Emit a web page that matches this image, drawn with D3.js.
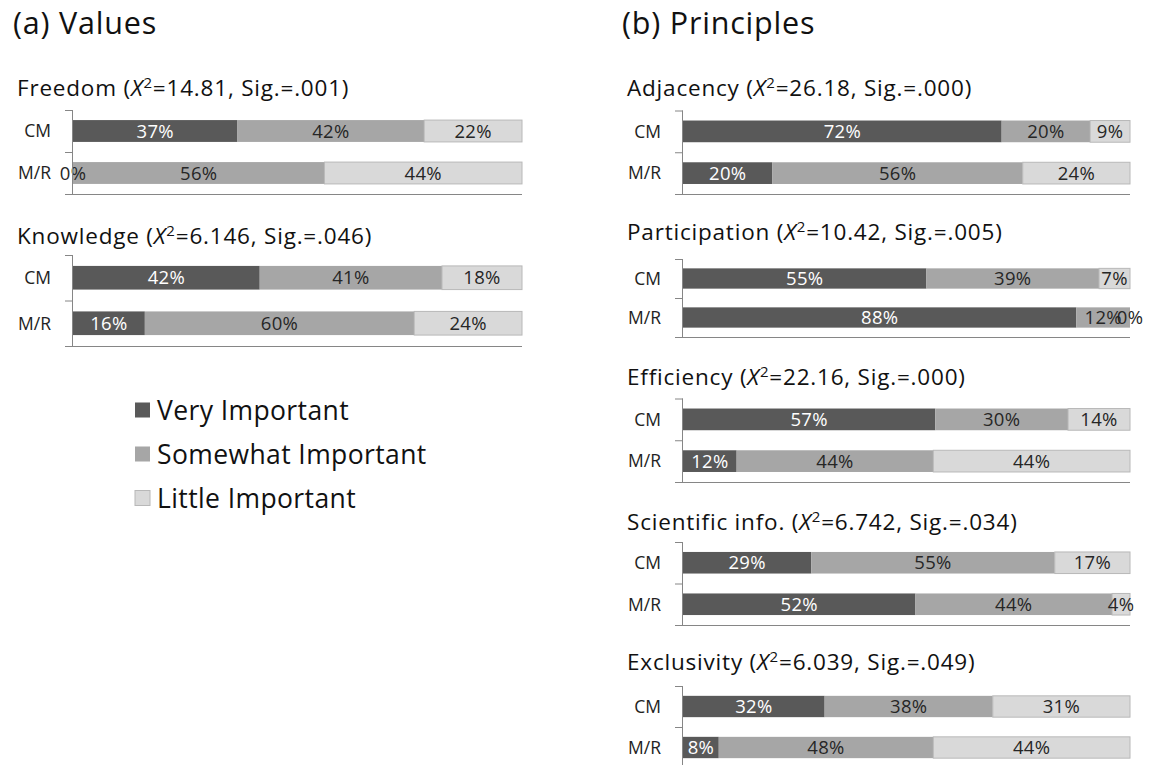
<!DOCTYPE html>
<html>
<head>
<meta charset="utf-8">
<script src="https://cdn.jsdelivr.net/npm/d3@7"></script>
<style>
  body { margin: 0; background: #fff; }
  svg { display: block; }
  text { font-family: "Open Sans", Lato, sans-serif; }
</style>
</head>
<body>
<svg id="chart" width="1150" height="765"></svg>
<script>
// ---- data ----
const groups = ["CM", "M/R"];
const levels = ["Very Important", "Somewhat Important", "Little Important"];
const items = ["Freedom", "Knowledge", "Adjacency", "Participation", "Efficiency", "Scientific info.", "Exclusivity"];
const panels = ["(a) Values", "(b) Principles"];
const itemPanel = [0, 0, 1, 1, 1, 1, 1];
const chiSq = ["14.81", "6.146", "26.18", "10.42", "22.16", "6.742", "6.039"];
const sig = [".001", ".046", ".000", ".005", ".000", ".034", ".049"];
const veryImportant     = [[37, 0], [42, 16], [72, 20], [55, 88], [57, 12], [29, 52], [32, 8]];
const somewhatImportant = [[42, 56], [41, 60], [20, 56], [39, 12], [30, 44], [55, 44], [38, 48]];
const littleImportant   = [[22, 44], [18, 24], [9, 24], [7, 0], [14, 44], [17, 4], [31, 44]];

// ---- layout (positions only) ----
const colors = ["#595959", "#a6a6a6", "#d9d9d9"];
const strokes = ["none", "none", "#b8b8b8"];
const labelColors = ["#ffffff", "#262626", "#262626"];
const panelLayout = [
  { titleX: 13, chartTitleX: 17, x0: 73, x1: 522 },
  { titleX: 622, chartTitleX: 627, x0: 683, x1: 1130 }
];
// per item: title center y, band top, band bottom
const itemLayout = [
  { ty: 88, top: 110, bottom: 194 },
  { ty: 236, top: 255, bottom: 346 },
  { ty: 88, top: 110.5, bottom: 194 },
  { ty: 232, top: 259, bottom: 337 },
  { ty: 377, top: 398.5, bottom: 482 },
  { ty: 522, top: 542, bottom: 625 },
  { ty: 662, top: 686, bottom: 768 }
];

const svg = d3.select("#chart");
const series = [veryImportant, somewhatImportant, littleImportant];

// panel titles
panels.forEach((p, i) => {
  svg.append("text")
    .attr("x", panelLayout[i].titleX)
    .attr("y", 34)
    .attr("font-size", 30.5)
    .attr("letter-spacing", 0.8)
    .attr("fill", "#111")
    .text(p);
});

items.forEach((name, k) => {
  const P = panelLayout[itemPanel[k]];
  const L = itemLayout[k];
  const g = svg.append("g");

  // chart title
  const t = g.append("text")
    .attr("x", P.chartTitleX)
    .attr("y", L.ty + 7.5)
    .attr("font-size", 22.5)
    .attr("letter-spacing", 0.8)
    .attr("fill", "#111");
  t.append("tspan").text(name + " (");
  t.append("tspan").attr("font-style", "italic").text("X");
  t.append("tspan").attr("font-size", 15).attr("dy", -8).text("2");
  t.append("tspan").attr("dy", 8).text("=" + chiSq[k] + ", Sig.=" + sig[k] + ")");

  const y = d3.scaleBand().domain(groups).range([L.top, L.bottom])
    .paddingInner(0.48).paddingOuter(0.24);

  groups.forEach((grp, gi) => {
    const vals = series.map(s => s[k][gi]);
    const total = d3.sum(vals);
    const x = d3.scaleLinear().domain([0, total]).range([P.x0, P.x1]);
    const stacked = [];
    let acc = 0;
    vals.forEach((v, si) => { stacked.push({ si, v, a: acc, b: acc + v }); acc += v; });

    g.selectAll(null).data(stacked).enter().append("rect")
      .attr("x", d => x(d.a))
      .attr("y", y(grp))
      .attr("width", d => x(d.b) - x(d.a))
      .attr("height", y.bandwidth())
      .attr("fill", d => colors[d.si])
      .attr("stroke", d => strokes[d.si])
      .attr("stroke-width", 1);

    g.selectAll(null).data(stacked).enter().append("text")
      .attr("x", d => (x(d.a) + x(d.b)) / 2)
      .attr("y", y(grp) + y.bandwidth() / 2)
      .attr("dy", "0.36em")
      .attr("text-anchor", "middle")
      .attr("font-size", 18.5)
      .attr("letter-spacing", 0.3)
      .attr("fill", d => d.v === 0 ? "#262626" : labelColors[d.si])
      .text(d => d.v + "%");

    // category label
    g.append("text")
      .attr("x", P.x0 - 22)
      .attr("y", y(grp) + y.bandwidth() / 2)
      .attr("dy", "0.36em")
      .attr("text-anchor", "end")
      .attr("font-size", 17.5)
      .attr("fill", "#222")
      .text(grp);
  });

  // axis
  const axisColor = "#868686";
  const bounds = [L.top, L.top + y.step(), L.bottom];
  g.append("line")
    .attr("x1", P.x0 - 0.5).attr("x2", P.x0 - 0.5)
    .attr("y1", L.top).attr("y2", L.bottom)
    .attr("stroke", axisColor);
  g.selectAll(null).data(bounds.slice(0, 2)).enter().append("line")
    .attr("x1", P.x0 - 8).attr("x2", P.x0)
    .attr("y1", d => d + 0.5).attr("y2", d => d + 0.5)
    .attr("stroke", axisColor);
  g.append("line")
    .attr("x1", P.x0 - 8).attr("x2", P.x1)
    .attr("y1", L.bottom + 0.5).attr("y2", L.bottom + 0.5)
    .attr("stroke", axisColor);
});

// legend
const legend = svg.append("g");
levels.forEach((lv, i) => {
  const cy = 410 + i * 44;
  legend.append("rect")
    .attr("x", 135).attr("y", cy - 7.5)
    .attr("width", 15).attr("height", 15)
    .attr("fill", colors[i])
    .attr("stroke", strokes[i]);
  legend.append("text")
    .attr("x", 157).attr("y", cy)
    .attr("dy", "0.36em")
    .attr("font-size", 26.5)
    .attr("letter-spacing", 0.4)
    .attr("fill", "#111")
    .text(lv);
});
</script>
</body>
</html>
